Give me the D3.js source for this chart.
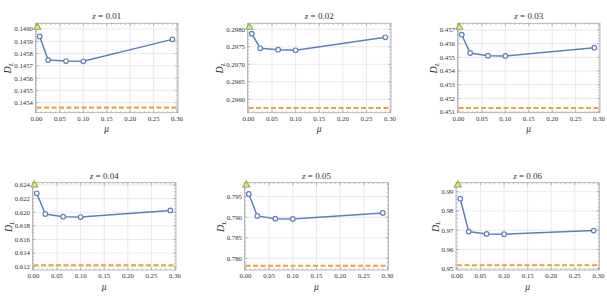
<!DOCTYPE html>
<html>
<head>
<meta charset="utf-8">
<script src="https://cdn.jsdelivr.net/npm/d3@7"></script>
<style>
  body { margin: 0; background: #fff; }
  svg text { font-family: "Liberation Serif", "DejaVu Serif", serif; fill: #333; }
</style>
</head>
<body>
<svg id="chart" width="607" height="306"></svg>
<script>
'use strict';

// mu sampled on the x axis, one z per panel
const mu = [0.007, 0.025, 0.063, 0.1, 0.29];
const muLimit = 0.002;
const xTicks = [0, 0.05, 0.10, 0.15, 0.20, 0.25, 0.30];
const redshifts = ['0.01', '0.02', '0.03', '0.04', '0.05', '0.06'];

const dlSeries = [
    [0.14594, 0.145747, 0.145739, 0.145737, 0.145916],
    [0.297874, 0.297457, 0.297417, 0.2974, 0.297771],
    [0.456656, 0.455317, 0.455122, 0.4551, 0.455705],
    [0.62278, 0.61974, 0.61935, 0.61929, 0.62026],
    [0.79566, 0.79032, 0.78966, 0.78959, 0.79105],
    [0.98636, 0.96927, 0.96808, 0.96792, 0.96979]
];
const dlAtLimit = [0.146014, 0.298057, 0.457195, 0.624, 0.79785, 0.99348];
const dlReference = [0.145359, 0.295751, 0.451293, 0.6122, 0.7782, 0.95177];

const yTicks = [
    [0.1454, 0.1455, 0.1456, 0.1457, 0.1458, 0.1459, 0.1460],
    [0.2960, 0.2965, 0.2970, 0.2975, 0.2980],
    [0.451, 0.452, 0.453, 0.454, 0.455, 0.456, 0.457],
    [0.612, 0.614, 0.616, 0.618, 0.620, 0.622, 0.624],
    [0.780, 0.785, 0.790, 0.795],
    [0.95, 0.96, 0.97, 0.98, 0.99]
];
const yDecimals = [4, 4, 3, 3, 3, 2];
const yDomains = [
    [0.145318, 0.146047],
    [0.295617, 0.298171],
    [0.45095, 0.45749],
    [0.61151, 0.62434],
    [0.77715, 0.79841],
    [0.94932, 0.99468]
];

// frame boxes of each panel in pixels
const frames = [
    { x0: 35.5, x1: 178, y0: 23.3, y1: 112.7 },
    { x0: 247.5, x1: 391, y0: 23.3, y1: 112.7 },
    { x0: 457.5, x1: 600, y0: 23.3, y1: 112.7 },
    { x0: 32.5, x1: 176, y0: 182.7, y1: 270 },
    { x0: 244.5, x1: 388.5, y0: 182.7, y1: 270 },
    { x0: 456, x1: 599.3, y0: 182.7, y1: 270 }
];

const colors = {
    line: '#5E81B5',
    ref: '#E6A53C',
    limit: '#8FB032',
    frame: '#a8a8a8',
    grid: '#e4e4e4'
};

const svg = d3.select('#chart');

function minorTicks(major, parts) {
    const step = major[1] - major[0];
    const out = [];
    const start = major[0] - step;
    for (let i = 0; i <= (major.length + 1) * parts; i++) {
        out.push(start + i * step / parts);
    }
    return out;
}

function drawPanel(i) {
    const f = frames[i];
    const g = svg.append('g');

    const x = d3.scaleLinear().domain([-0.002, 0.302]).range([f.x0, f.x1]);
    const y = d3.scaleLinear().domain(yDomains[i]).range([f.y1, f.y0]);

    const clipId = 'clip' + i;
    g.append('clipPath').attr('id', clipId)
        .append('rect')
        .attr('x', f.x0).attr('y', f.y0)
        .attr('width', f.x1 - f.x0).attr('height', f.y1 - f.y0);

    // grid
    g.selectAll('.gx').data(xTicks).enter().append('line')
        .attr('x1', d => x(d)).attr('x2', d => x(d))
        .attr('y1', f.y0).attr('y2', f.y1)
        .attr('stroke', colors.grid).attr('stroke-width', 0.8);
    g.selectAll('.gy').data(yTicks[i]).enter().append('line')
        .attr('x1', f.x0).attr('x2', f.x1)
        .attr('y1', d => y(d)).attr('y2', d => y(d))
        .attr('stroke', colors.grid).attr('stroke-width', 0.8);

    // ticks on all four sides
    const inX = d => d >= x.domain()[0] && d <= x.domain()[1];
    const inY = d => d >= yDomains[i][0] && d <= yDomains[i][1];
    const xMinor = minorTicks(xTicks, 5).filter(inX);
    const yMinor = minorTicks(yTicks[i], i === 3 ? 4 : 5).filter(inY);

    const tickG = g.append('g').attr('stroke', colors.frame).attr('stroke-width', 0.7);
    [[xTicks, 3], [xMinor, 1.6]].forEach(([ticks, len]) => {
        ticks.forEach(d => {
            tickG.append('line').attr('x1', x(d)).attr('x2', x(d)).attr('y1', f.y1).attr('y2', f.y1 - len);
            tickG.append('line').attr('x1', x(d)).attr('x2', x(d)).attr('y1', f.y0).attr('y2', f.y0 + len);
        });
    });
    [[yTicks[i], 3], [yMinor, 1.6]].forEach(([ticks, len]) => {
        ticks.forEach(d => {
            tickG.append('line').attr('y1', y(d)).attr('y2', y(d)).attr('x1', f.x0).attr('x2', f.x0 + len);
            tickG.append('line').attr('y1', y(d)).attr('y2', y(d)).attr('x1', f.x1).attr('x2', f.x1 - len);
        });
    });

    g.append('rect')
        .attr('x', f.x0).attr('y', f.y0)
        .attr('width', f.x1 - f.x0).attr('height', f.y1 - f.y0)
        .attr('fill', 'none')
        .attr('stroke', colors.frame).attr('stroke-width', 0.8);

    // tick labels
    g.selectAll('.xl').data(xTicks).enter().append('text')
        .attr('x', d => x(d)).attr('y', f.y1 + 8.3)
        .attr('text-anchor', 'middle')
        .attr('font-size', 6.8)
        .text(d => d.toFixed(2));
    const yLabels = g.selectAll('.yl').data(yTicks[i]).enter().append('text')
        .attr('x', f.x0 - 2.5).attr('y', d => y(d) + 2.4)
        .attr('text-anchor', 'end')
        .attr('font-size', 6.8)
        .text(d => d.toFixed(yDecimals[i]));

    let labelLeft = f.x0;
    yLabels.each(function() {
        labelLeft = Math.min(labelLeft, this.getBBox().x);
    });

    // axis labels and title
    const cx = (f.x0 + f.x1) / 2;
    const title = g.append('text')
        .attr('x', cx).attr('y', f.y0 - 4)
        .attr('text-anchor', 'middle')
        .attr('font-size', 9);
    title.append('tspan').attr('font-style', 'italic').text('z');
    title.append('tspan').text(' = ' + redshifts[i]);

    g.append('text')
        .attr('x', cx).attr('y', f.y1 + 19.5)
        .attr('text-anchor', 'middle')
        .attr('font-size', 9.5)
        .attr('font-style', 'italic')
        .text('μ');

    const cy = (f.y0 + f.y1) / 2;
    const yLab = g.append('text')
        .attr('transform', `translate(${labelLeft - 3},${cy}) rotate(-90)`)
        .attr('text-anchor', 'middle')
        .attr('font-size', 10)
        .attr('font-style', 'italic');
    yLab.append('tspan').text('D');
    yLab.append('tspan').attr('font-size', 7).attr('dy', 1.8).text('L');

    // data
    const dataG = g.append('g').attr('clip-path', `url(#${clipId})`);
    dataG.append('line')
        .attr('x1', x.range()[0] + 1).attr('x2', x.range()[1] - 1)
        .attr('y1', y(dlReference[i])).attr('y2', y(dlReference[i]))
        .attr('stroke', colors.ref)
        .attr('stroke-width', 2.1)
        .attr('stroke-dasharray', '5,2.5');

    const pts = mu.map((m, k) => [m, dlSeries[i][k]]);
    const line = d3.line().x(d => x(d[0])).y(d => y(d[1]));
    dataG.append('path')
        .attr('d', line(pts))
        .attr('fill', 'none')
        .attr('stroke', colors.line)
        .attr('stroke-width', 1.5);

    g.selectAll('.pt').data(pts).enter().append('circle')
        .attr('cx', d => x(d[0])).attr('cy', d => y(d[1]))
        .attr('r', 2.3)
        .attr('fill', '#fff')
        .attr('stroke', colors.line)
        .attr('stroke-width', 1.2);

    g.append('path')
        .attr('d', d3.symbol(d3.symbolTriangle).size(20)())
        .attr('transform', `translate(${x(muLimit)},${y(dlAtLimit[i])})`)
        .attr('fill', '#dbe7b4')
        .attr('stroke', colors.limit)
        .attr('stroke-width', 1.1);
}

redshifts.forEach((z, i) => drawPanel(i));
</script>
</body>
</html>
